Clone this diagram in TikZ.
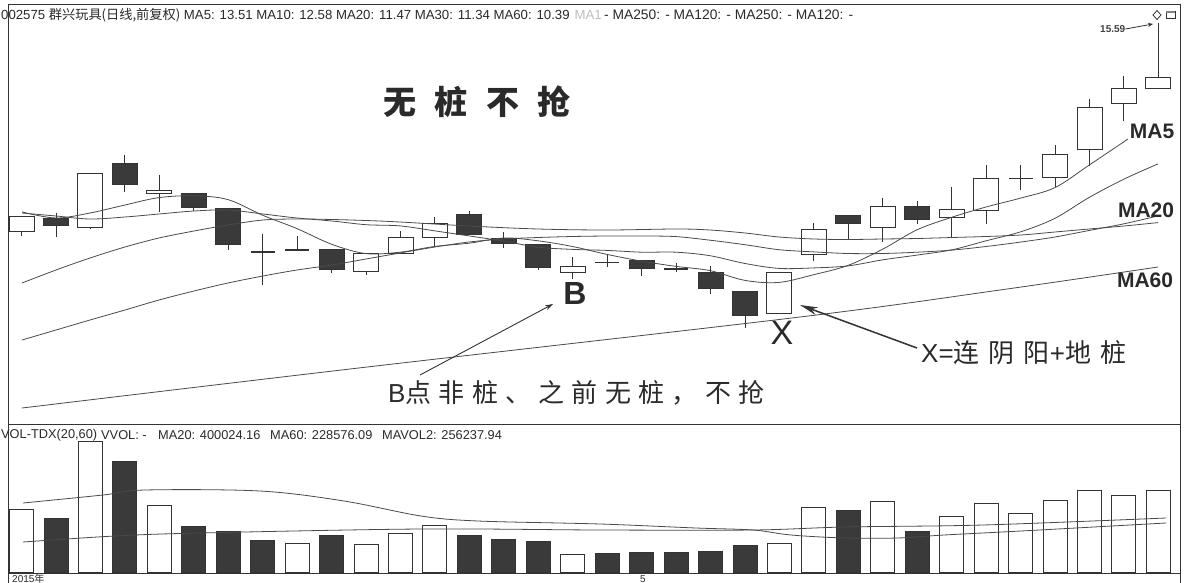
\documentclass[tikz,border=0pt]{standalone}
\usepackage{fontspec}
\setmainfont{Liberation Sans}
\newfontfamily\cjk{Noto Sans CJK SC}
\newfontfamily\cjktitle{Noto Sans CJK SC}[LetterSpace=55]
\newfontfamily\cjkannoB{Noto Sans CJK SC}[LetterSpace=28]
\newfontfamily\cjkannoX{Noto Sans CJK SC}[LetterSpace=35]
\usetikzlibrary{arrows.meta}
\definecolor{ink}{HTML}{333333}
\definecolor{lineC}{HTML}{4A4A4A}
\definecolor{darkfill}{HTML}{3A3A3A}
\definecolor{txt}{HTML}{2A2A2A}
\tikzset{
  frame/.style={draw=ink, line width=0.9pt},
  wick/.style={draw=ink, line width=0.9pt},
  upbody/.style={draw=ink, line width=0.9pt},
  downbody/.style={draw=ink, fill=darkfill, line width=0.9pt},
  maline/.style={draw=lineC, line width=0.8pt},
  hdr/.style={anchor=west, inner sep=0pt, text=txt, font=\fontsize{13.2}{13.2}\selectfont},
  vhdr/.style={anchor=west, inner sep=0pt, text=txt, font=\fontsize{12.8}{12.8}\selectfont},
  titlestyle/.style={inner sep=0pt, text=txt, font=\fontsize{33}{33}\selectfont\cjktitle\bfseries},
  annostyle/.style={inner sep=0pt, text=txt, anchor=west},
  bigletter/.style={inner sep=0pt, text=txt, font=\fontsize{33}{33}\selectfont},
  malabel/.style={inner sep=0pt, text=txt, font=\fontsize{21}{21}\selectfont\bfseries},
  thinarrow/.style={draw=ink, line width=0.9pt, -{Stealth[length=8pt,width=5pt]}},
  thickarrow/.style={draw=ink, line width=1.5pt, -{Stealth[length=18pt,width=8pt]}}
}
\begin{document}
\begin{tikzpicture}[x=1pt,y=-1pt]
\useasboundingbox (0,0) rectangle (1193,583);
\fill[white] (0,0) rectangle (1193,583);
% frame
\draw[frame] (8.5,4) -- (1180,4);
\draw[frame] (8.5,4) -- (8.5,583);
\draw[frame] (1180,4) -- (1180,583);
\draw[frame] (8.5,424) -- (1180,424);
\draw[frame] (8.5,573) -- (1180,573);

% header
\node[hdr] (h1) at (1,15) {002575 {\cjk 群兴玩具(日线,前复权)} MA5: 13.51 MA10: 12.58 MA20: 11.47 MA30: 11.34 MA60: 10.39};
\node[hdr, text=black!25, anchor=east] (h8) at (602,15) {MA1};
\node[hdr, font=\fontsize{13.8}{13.8}\selectfont] (h9) at (604,15) {- MA250: - MA120: - MA250: - MA120: -};

% volume header
\node[vhdr] (v1) at (1,435) {VOL-TDX(20,60)};
\node[vhdr] (v2) at (101,435) {VVOL: -};
\node[vhdr] (v3) at (158,435) {MA20: 400024.16};
\node[vhdr] (v4) at (270,435) {MA60: 228576.09};
\node[vhdr] (v5) at (382,435) {MAVOL2: 256237.94};
\node[hdr, font=\fontsize{10}{10}\selectfont] (d1) at (12,579) {2015\cjk 年};
\node[hdr, font=\fontsize{10}{10}\selectfont] (d2) at (640,579) {5};

% hollow candles
\foreach \i/\t/\b/\h/\l in {1/216/231/216/236, 3/173/227/173/229, 5/190/193/175/212,
  11/253/271/253/275, 12/237/253/231/253, 13/223/237/217/246, 17/266/272/257/279,
  23/272/313/272/313, 24/229/254/223/261, 26/206/227/198/242, 28/209/217/187/237,
  29/178/210/165/224, 31/154/177/145/187, 32/107/149/99/166, 33/88/103/76/121, 34/77/88/23/88}{
  \pgfmathsetmacro\cx{21.5+(\i-1)*34.45}
  \draw[wick] (\cx,\h) -- (\cx,\t) (\cx,\b) -- (\cx,\l);
  \draw[upbody] (\cx-12.5,\t) rectangle (\cx+12.5,\b);
}
% dark candles
\foreach \i/\t/\b/\h/\l in {2/218/225/213/237, 4/163/184/155/192, 6/193/207/193/211,
  7/208/244/208/250, 10/249/269/249/273, 14/214/234/211/234, 15/238/243/232/248,
  16/244/267/244/270, 19/260/268/260/276, 21/272/288/266/294, 22/291/315/291/328,
  25/215/223/215/239, 27/206/219/201/224}{
  \pgfmathsetmacro\cx{21.5+(\i-1)*34.45}
  \draw[wick] (\cx,\h) -- (\cx,\l);
  \draw[downbody] (\cx-12.5,\t) rectangle (\cx+12.5,\b);
}
% crosses
\foreach \i/\y/\h/\l/\w in {8/252/234/285/2.2, 9/250/236/250/1.6, 18/262/255/267/1.0,
  20/269/263/272/1.6, 30/178/165/190/1.0}{
  \pgfmathsetmacro\cx{21.5+(\i-1)*34.45}
  \draw[wick] (\cx,\h) -- (\cx,\l);
  \draw[wick, line width=\w pt] (\cx-12,\y) -- (\cx+12,\y);
}

% moving averages
\draw[maline] plot[smooth, tension=0.55] coordinates {(22,212) (56,218) (90,213) (125,205) (159,197.6)
  (194,195.8) (228,199.6) (263,215.4) (297,228.6) (332,244.4) (366,253.6) (400,252.2) (435,246.4)
  (469,243.2) (504,238) (538,240.8) (573,246.6) (607,254.4) (642,261.2) (676,266.4) (710,270.6)
  (745,280.4) (779,282.4) (814,274.6) (848,265.4) (883,249) (917,229.8) (952,217.2) (986,207)
  (1021,198) (1055,187.6) (1089,165.2) (1128,139)};
\draw[maline] plot[smooth, tension=0.55] coordinates {(22,213) (56,216) (90,219) (125,217) (159,214)
  (194,211) (228,210) (263,214) (297,218) (332,221) (366,224.7) (400,225.9) (435,230.9) (469,235.9)
  (504,241.2) (538,247.2) (573,249.4) (607,250.4) (642,252.2) (676,252.2) (710,255.7) (745,263.5)
  (779,268.4) (814,267.9) (848,265.9) (883,259.8) (917,255.1) (952,249.8) (986,240.8) (1021,231.7)
  (1055,218.3) (1089,197.5) (1124,179.1) (1158,163.9)};
\draw[maline] plot[smooth, tension=0.55] coordinates {(22,340) (56,330) (90,320) (125,310) (159,300)
  (194,291) (228,283) (263,276) (297,270) (332,265) (366,259) (400,253) (435,247) (469,242) (504,239)
  (538,237.5) (573,236.5) (607,236) (642,236) (676,236.6) (710,240.2) (745,244.7) (779,249.7)
  (814,251.9) (848,253.5) (883,253.5) (917,252.2) (952,250.1) (986,246.5) (1021,242) (1055,237)
  (1089,230.5) (1124,223.8) (1158,215.9)};
\draw[maline] plot[smooth, tension=0.55] coordinates {(22,283) (56,270) (90,258) (125,247) (159,238)
  (194,231) (228,225) (263,220) (297,219) (332,219.5) (366,220.5) (400,222) (469,226) (538,229)
  (607,230) (676,229) (710,230) (745,233) (779,237) (814,239) (848,239.5) (883,239) (917,238.5)
  (952,237.5) (986,236.5) (1021,235) (1055,232) (1089,229) (1124,226) (1158,222.6)};
\draw[maline] plot[smooth, tension=0.55] coordinates {(22,408) (350,369) (800,317) (1000,290) (1158,267)};

% volume bars
\foreach \i/\tp in {1/509, 3/441, 5/505, 9/543, 11/544, 12/533.5, 13/525, 17/554, 23/543, 24/507,
  26/501, 28/516, 29/503, 30/513, 31/500.5, 32/490, 33/495, 34/490}{
  \pgfmathsetmacro\cx{21.5+(\i-1)*34.45}
  \draw[upbody] (\cx-12,\tp) rectangle (\cx+12,572);
}
\foreach \i/\tp in {2/518, 4/461, 6/526, 7/531, 8/540, 10/535, 14/535, 15/539, 16/541.5, 18/553,
  19/552, 20/552, 21/551, 22/545, 25/510, 27/531}{
  \pgfmathsetmacro\cx{21.5+(\i-1)*34.45}
  \draw[downbody] (\cx-12,\tp) rectangle (\cx+12,572);
}
% volume averages
\draw[maline] plot[smooth, tension=0.55] coordinates {(23,503) (103,495) (145,490) (260,491) (344,501)
  (421,516) (478,521) (600,524) (696,528) (753,530) (791,535) (845,538) (898,538) (944,535) (1021,531) (1166,523)};
\draw[maline] plot[smooth, tension=0.55] coordinates {(23,542) (115,536) (200,533) (421,529) (600,530)
  (753,530) (845,527) (983,525) (1166,518)};

% labels
\node[titlestyle] (ttl) at (477,102) {无桩不抢};
\node[bigletter, font=\fontsize{32}{32}\selectfont\bfseries] (Blab) at (575,293) {B};
\node[bigletter, font=\fontsize{34}{34}\selectfont] (Xlab) at (782,333) {X};
\node[annostyle, font=\fontsize{26}{26}\selectfont\cjkannoB] (bt) at (388,393) {{\rmfamily B}点非桩、之前无桩，不抢};
\node[annostyle, font=\fontsize{26}{26}\selectfont\cjkannoX] (xt) at (921,353) {{\rmfamily X=}连阴阳{\rmfamily +}地桩};
\node[malabel] (m5) at (1152,131) {MA5};
\node[malabel] (m20) at (1146,210) {MA20};
\node[malabel] (m60) at (1145,280) {MA60};

% arrows
\coordinate (bTail) at (420,375);
\coordinate (bHead) at (553,304);
\draw[thinarrow] (bTail) -- (bHead);
\coordinate (xTail) at (917,348);
\coordinate (xHead) at (800,305);
\draw[thickarrow] (xTail) -- (xHead);

% peak label
\node[hdr, font=\fontsize{10}{10}\selectfont\bfseries, text=black!75] (pk) at (1100,29) {15.59};
\coordinate (pkHead) at (1153,24);
\draw[draw=ink, line width=0.8pt, -{Stealth[length=5pt,width=4pt]}] (pk.east) -- (pkHead);
% corner icons
\draw[ink, line width=0.8pt] (1157,10.5) -- (1161,15) -- (1157,19.5) -- (1153,15) -- cycle;
\draw[ink, line width=0.8pt] (1166,11) rectangle (1175,18);
\fill[ink!60] (1166,11) rectangle (1175,13.5);
\end{tikzpicture}
\end{document}
